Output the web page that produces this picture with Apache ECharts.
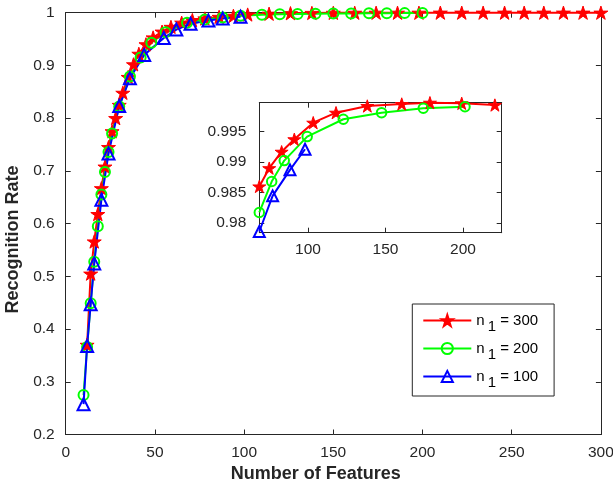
<!DOCTYPE html>
<html><head><meta charset="utf-8">
<script src="https://cdn.jsdelivr.net/npm/echarts@6/dist/echarts.min.js"></script>
<style>html,body{margin:0;padding:0;background:#fff}#c{width:613px;height:484px}</style>
</head><body><div id="c"></div>
<script>
// ---- main plot data ----
const redX = [12, 14, 16, 18, 20, 22, 24, 26, 28, 30, 32, 35, 38, 41, 45, 49, 54, 59, 65, 71, 78, 86, 94, 102, 114, 126, 138, 150, 162, 174, 186, 198, 210, 222, 234, 246, 257, 268, 279, 290, 300];
const redY = [0.370, 0.505, 0.566, 0.618, 0.667, 0.708, 0.745, 0.775, 0.800, 0.825, 0.848, 0.878, 0.902, 0.922, 0.940, 0.953, 0.964, 0.973, 0.981, 0.986, 0.989, 0.992, 0.994, 0.9965, 0.998, 0.999, 0.9995, 0.9997, 0.9998, 0.9999, 0.9999, 0.9999, 1, 1, 1, 1, 1, 1, 1, 1, 1];
const greenX = [10, 12, 14, 16, 18, 20, 22, 24, 26, 30, 36, 42, 48, 56, 68, 78, 88, 98, 110, 120, 130, 140, 150, 160, 170, 180, 190, 200];
const greenY = [0.275, 0.366, 0.449, 0.5275, 0.595, 0.655, 0.698, 0.736, 0.771, 0.822, 0.879, 0.915, 0.943, 0.963, 0.981, 0.987, 0.991, 0.994, 0.996, 0.997, 0.9975, 0.998, 0.9983, 0.9986, 0.9989, 0.9991, 0.9992, 0.9993];
const blueX = [10, 12, 14, 16, 20, 24, 30, 36, 44, 55, 62, 70, 80, 88, 98];
const blueY = [0.2575, 0.368, 0.447, 0.5245, 0.645, 0.733, 0.823, 0.8755, 0.92, 0.952, 0.968, 0.979, 0.985, 0.989, 0.9924];

// ---- inset data ----
const insetRedX = [68.6, 75.0, 83.0, 91.2, 103.4, 118.1, 138.3, 160.5, 178.7, 199.2, 220.6];
const insetRedY = [0.9860, 0.9890, 0.9917, 0.99375, 0.99647, 0.99811, 0.99921, 0.99954, 0.99975, 0.99965, 0.99937];
const insetGreenX = [68.6, 76.6, 84.7, 99.5, 122.8, 147.5, 174.4, 201.3];
const insetGreenY = [0.98172, 0.98680, 0.99024, 0.99418, 0.99703, 0.99811, 0.99883, 0.99909];
const insetBlueX = [68.6, 77.2, 88.4, 98.1];
const insetBlueY = [0.97860, 0.98445, 0.98872, 0.99211];

// ---- ticks & labels ----
const insetXTicks = [100, 150, 200];
const insetYTicks = [0.98, 0.985, 0.99, 0.995];
const seriesNames = ['n_1 = 300', 'n_1 = 200', 'n_1 = 100'];

const zip = (xs, ys) => xs.map((x, i) => [x, ys[i]]);
const STAR = 'path://M50 0L61.2 34.5L97.6 34.5L68.2 55.9L79.4 90.5L50 69.1L20.6 90.5L31.8 55.9L2.4 34.5L38.8 34.5Z';
const AX = '#262626';
const FONT = 'Liberation Sans, Arial, sans-serif';
const TICKFS = 15.5;

function mkAxisBase(extra) {
  return Object.assign({
    type: 'value',
    axisLine: { show: true, onZero: false, lineStyle: { color: AX, width: 1 } },
    axisTick: { show: true, inside: true, length: 5, lineStyle: { color: AX } },
    splitLine: { show: false },
    axisLabel: { color: AX, fontSize: TICKFS, fontFamily: FONT }
  }, extra);
}

const red = '#ff0000', green = '#00ff00', blue = '#0000ff';
function mkSeries(name, data, xi, yi, color, symbol, size, filled, z) {
  return {
    name: name, type: 'line', xAxisIndex: xi, yAxisIndex: yi, data: data,
    symbol: symbol, symbolSize: size, symbolKeepAspect: true, showAllSymbol: true,
    clip: false, z: z, animation: false,
    lineStyle: { color: color, width: 2 },
    itemStyle: { color: filled ? color : 'rgba(0,0,0,0)', borderColor: color, borderWidth: filled ? 1 : 2 },
    emphasis: { disabled: true }
  };
}

const chart = echarts.init(document.getElementById('c'), null, { renderer: 'canvas' });
chart.setOption({
  animation: false,
  backgroundColor: '#fff',
  grid: [
    { left: 65.7, right: 12.1, top: 12.7, bottom: 49.5, show: false, containLabel: false, outerBoundsMode: 'none' },
    { left: 259.3, top: 102.7, width: 242.4, height: 130, show: true, backgroundColor: '#fff', borderWidth: 0, z: 5, containLabel: false, outerBoundsMode: 'none' }
  ],
  xAxis: [
    mkAxisBase({ gridIndex: 0, position: 'bottom', min: 0, max: 300, interval: 50,
      axisLabel: { color: AX, fontSize: TICKFS, fontFamily: FONT, margin: 10 },
      name: 'Number of Features', nameLocation: 'middle', nameGap: 30,
      nameTextStyle: { color: AX, fontSize: 18, fontWeight: 'bold', fontFamily: FONT, padding: [0, 35, 0, 0] } }),
    mkAxisBase({ gridIndex: 0, position: 'top', min: 0, max: 300, interval: 50, axisLabel: { show: false } }),
    mkAxisBase({ gridIndex: 1, position: 'bottom', min: 68.6, max: 225, z: 6,
      axisTick: { show: true, inside: true, length: 5, lineStyle: { color: AX }, customValues: insetXTicks },
      axisLabel: { color: AX, fontSize: TICKFS, fontFamily: FONT, margin: 9, customValues: insetXTicks } }),
    mkAxisBase({ gridIndex: 1, position: 'top', min: 68.6, max: 225, z: 6,
      axisTick: { show: true, inside: true, length: 5, lineStyle: { color: AX }, customValues: insetXTicks },
      axisLabel: { show: false } })
  ],
  yAxis: [
    mkAxisBase({ gridIndex: 0, position: 'left', min: 0.2, max: 1, interval: 0.1,
      axisLabel: { color: AX, fontSize: TICKFS, fontFamily: FONT, margin: 11 },
      name: 'Recognition Rate', nameLocation: 'middle', nameGap: 41, nameRotate: 90,
      nameTextStyle: { color: AX, fontSize: 18, fontWeight: 'bold', fontFamily: FONT, padding: [0, 32, 0, 0] } }),
    mkAxisBase({ gridIndex: 0, position: 'right', min: 0.2, max: 1, interval: 0.1, axisLabel: { show: false } }),
    mkAxisBase({ gridIndex: 1, position: 'left', min: 0.9784, max: 0.99975, z: 6,
      axisTick: { show: true, inside: true, length: 5, lineStyle: { color: AX }, customValues: insetYTicks },
      axisLabel: { color: AX, fontSize: TICKFS, fontFamily: FONT, margin: 13, customValues: insetYTicks } }),
    mkAxisBase({ gridIndex: 1, position: 'right', min: 0.9784, max: 0.99975, z: 6,
      axisTick: { show: true, inside: true, length: 5, lineStyle: { color: AX }, customValues: insetYTicks },
      axisLabel: { show: false } })
  ],
  legend: {
    orient: 'vertical', left: 412.3, top: 304,
    padding: [9, 16, 6, 10], itemGap: 7, itemWidth: 48, itemHeight: 14,
    backgroundColor: '#fff', borderColor: AX, borderWidth: 1,
    data: seriesNames,
    selectedMode: false,
    formatter: function (name) {
      const rest = name.split('_1')[1];
      return '{n|n}{s|1}{t|' + rest + '}';
    },
    textStyle: {
      color: '#000', fontSize: 15, fontFamily: FONT,
      rich: {
        n: { fontSize: 15, fontFamily: FONT, color: '#000' },
        s: { fontSize: 15, fontFamily: FONT, color: '#000', padding: [12, 0, 0, 3] },
        t: { fontSize: 15, fontFamily: FONT, color: '#000' }
      }
    }
  },
  series: [
    mkSeries(seriesNames[0], zip(redX, redY), 0, 0, red, STAR, 14, true, 2),
    mkSeries(seriesNames[1], zip(greenX, greenY), 0, 0, green, 'circle', 10, false, 2),
    mkSeries(seriesNames[2], zip(blueX, blueY), 0, 0, blue, 'triangle', 12, false, 2),
    mkSeries(seriesNames[0], zip(insetRedX, insetRedY), 2, 2, red, STAR, 13, true, 7),
    mkSeries(seriesNames[1], zip(insetGreenX, insetGreenY), 2, 2, green, 'circle', 9.5, false, 7),
    mkSeries(seriesNames[2], zip(insetBlueX, insetBlueY), 2, 2, blue, 'triangle', 11, false, 7)
  ]
});
</script>
</body></html>
